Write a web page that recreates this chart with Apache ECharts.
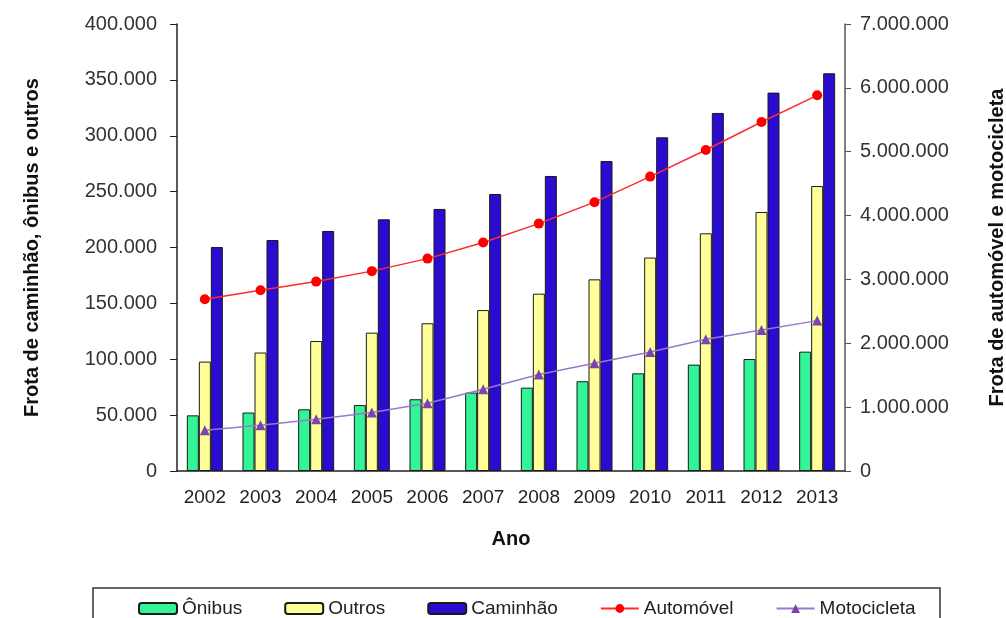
<!DOCTYPE html>
<html>
<head>
<meta charset="utf-8">
<script src="https://cdn.jsdelivr.net/npm/echarts@6/dist/echarts.min.js"></script>
<style>
  html, body { margin: 0; padding: 0; background: #fff; }
  #chart-container { width: 1006px; height: 618px; }
</style>
</head>
<body>
<div id="chart-container"></div>
<script>
var anos = ['2002', '2003', '2004', '2005', '2006', '2007', '2008', '2009', '2010', '2011', '2012', '2013'];
var onibus = [49800, 52300, 55200, 59000, 64200, 70200, 74600, 80300, 87400, 95200, 100200, 106800];
var outros = [97900, 106000, 116300, 123800, 132200, 144000, 158700, 171500, 191000, 212700, 231800, 255000];
var caminhao = [200400, 206700, 214800, 225200, 234500, 247900, 264000, 277400, 298600, 320400, 338600, 355900];
var automovel = [2689000, 2830000, 2966000, 3130000, 3326000, 3577000, 3874000, 4210000, 4610000, 5027000, 5465000, 5883000];
var motocicleta = [637000, 716000, 810000, 915000, 1060000, 1280000, 1510000, 1687000, 1864000, 2062000, 2208000, 2355000];

var fonte = "'Liberation Sans', Arial, sans-serif";

// 1.000.000 style
function milhar(v) {
  return String(v).replace(/\B(?=(\d{3})+(?!\d))/g, '.');
}

var chartDom = document.getElementById('chart-container');
var myChart = echarts.init(chartDom);
var option;

option = {
  animation: false,
  textStyle: {fontFamily: fonte, color: '#222'},
  grid: {left: 177, right: 161, top: 24, bottom: 147, outerBoundsMode: 'none'},
  graphic: [
    {
      type: 'rect',
      shape: {x: 93, y: 588, width: 847, height: 40},
      style: {fill: 'none', stroke: '#333', lineWidth: 1.5}
    }
  ],
  legend: {
    left: 133,
    top: 594,
    itemWidth: 38,
    itemHeight: 11,
    itemGap: 42,
    textStyle: {fontSize: 19, fontFamily: fonte, color: '#222'},
    data: ['Ônibus', 'Outros', 'Caminhão', 'Automóvel', 'Motocicleta']
  },
  xAxis: {
    type: 'category',
    data: anos,
    name: 'Ano',
    nameLocation: 'middle',
    nameGap: 58,
    nameTextStyle: {fontSize: 20, fontWeight: 'bold', color: '#111'},
    axisLine: {lineStyle: {color: '#222', width: 1.5}},
    axisTick: {interval: 0, length: 6, lineStyle: {color: '#222'}},
    axisLabel: {interval: 0, fontSize: 19, margin: 17, color: '#222'}
  },
  yAxis: [
    {
      type: 'value',
      min: 0,
      max: 400000,
      interval: 50000,
      name: 'Frota de caminhão, ônibus e outros',
      nameLocation: 'middle',
      nameGap: 135,
      nameTextStyle: {fontSize: 20, fontWeight: 'bold', color: '#111'},
      splitLine: {show: false},
      axisLine: {show: true, lineStyle: {color: '#222', width: 1.5}},
      axisTick: {show: true, length: 7, lineStyle: {color: '#222'}},
      axisLabel: {fontSize: 20, margin: 20, color: '#333', formatter: milhar}
    },
    {
      type: 'value',
      min: 0,
      max: 7000000,
      interval: 1000000,
      name: 'Frota de automóvel e motocicleta',
      nameLocation: 'middle',
      nameGap: 142,
      nameTextStyle: {fontSize: 20, fontWeight: 'bold', color: '#111'},
      splitLine: {show: false},
      axisLine: {show: true, lineStyle: {color: '#555', width: 1.5}},
      axisTick: {show: true, length: 6, lineStyle: {color: '#555'}},
      axisLabel: {fontSize: 20, margin: 15, color: '#333', formatter: milhar}
    }
  ],
  series: [
    {
      name: 'Ônibus',
      type: 'bar',
      data: onibus,
      barWidth: 12,
      barGap: '0%',
      itemStyle: {color: '#33f598', borderColor: '#1a1a1a', borderWidth: 1}
    },
    {
      name: 'Outros',
      type: 'bar',
      data: outros,
      barWidth: 12,
      barGap: '0%',
      itemStyle: {color: '#ffff99', borderColor: '#1a1a1a', borderWidth: 1}
    },
    {
      name: 'Caminhão',
      type: 'bar',
      data: caminhao,
      barWidth: 12,
      barGap: '0%',
      itemStyle: {color: '#2a0bd0', borderColor: '#1a1a1a', borderWidth: 1}
    },
    {
      name: 'Automóvel',
      type: 'line',
      yAxisIndex: 1,
      data: automovel,
      symbol: 'circle',
      symbolSize: 10,
      lineStyle: {color: '#ff2a2a', width: 1.5},
      itemStyle: {color: '#ff0000'}
    },
    {
      name: 'Motocicleta',
      type: 'line',
      yAxisIndex: 1,
      data: motocicleta,
      symbol: 'triangle',
      symbolSize: 10,
      lineStyle: {color: '#9a78cc', width: 1.5},
      itemStyle: {color: '#7b44b0'}
    }
  ]
};

option && myChart.setOption(option);
</script>
</body>
</html>
